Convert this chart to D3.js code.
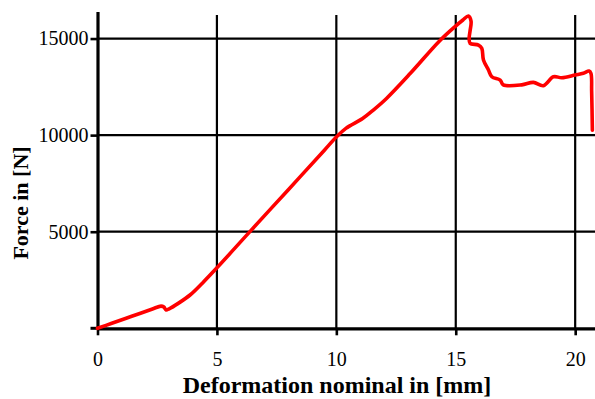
<!DOCTYPE html>
<html>
<head>
<meta charset="utf-8">
<script src="https://cdn.jsdelivr.net/npm/d3@7"></script>
<style>
    body { margin: 0; background: white; }
    svg text { font-family: "Liberation Serif", "Times New Roman", serif; }
</style>
</head>
<body>
<div id="canvas"></div>
<script>
"use strict"

/* Data: deformation [mm] and force [N] */
let deformation = [0, 0.6, 1.2, 1.8, 2.3, 2.66, 2.78, 2.87, 3.0, 3.38, 3.9, 4.4, 5.0, 6.4, 8.0, 9.5, 10.0, 10.4, 11.1, 11.55, 12.1, 13.1, 14.3, 14.97, 15.3, 15.53, 15.64, 15.6, 15.56, 15.6, 15.95, 16.09, 16.16, 16.37, 16.51, 16.86, 16.99, 17.76, 18.25, 18.67, 19.09, 19.44, 20.0, 20.34, 20.58, 20.66, 20.69, 20.72];
let force = [0, 260, 520, 780, 1000, 1150, 1100, 950, 1010, 1290, 1750, 2350, 3130, 5030, 7190, 9220, 9900, 10350, 10860, 11300, 11900, 13200, 14850, 15620, 15960, 16170, 15900, 15400, 15010, 14750, 14660, 14490, 13890, 13370, 13020, 12850, 12600, 12600, 12730, 12560, 13020, 12970, 13110, 13200, 13320, 13200, 12250, 10260];

let xTicks = [0, 5, 10, 15, 20];
let yTicks = [0, 5000, 10000, 15000];

/* Configuration variables: drawing */
let svgWidth = 595;
let svgHeight = 399;
let plotLeft = 97.5;
let plotTop = 11.5;
let plotBottom = 328.3;

let svg = d3.select("#canvas")
    .append("svg")
    .attr("width", svgWidth)
    .attr("height", svgHeight);

let xScale = d3.scaleLinear()
    .domain([0, 20.83])
    .range([plotLeft, svgWidth]);

let yScale = d3.scaleLinear()
    .domain([0, 16400])
    .range([plotBottom, plotTop]);

/* Grid lines */
svg.append("g")
    .selectAll("line")
    .data(yTicks.filter(d => d > 0))
    .join("line")
    .attr("x1", plotLeft)
    .attr("x2", svgWidth)
    .attr("y1", d => yScale(d))
    .attr("y2", d => yScale(d))
    .attr("stroke", "black")
    .attr("stroke-width", 2.2);

svg.append("g")
    .selectAll("line")
    .data(xTicks.filter(d => d > 0))
    .join("line")
    .attr("x1", d => xScale(d))
    .attr("x2", d => xScale(d))
    .attr("y1", 15)
    .attr("y2", plotBottom)
    .attr("stroke", "black")
    .attr("stroke-width", 2.2);

/* Axes */
let xAxis = svg.append("g")
    .attr("transform", "translate(0," + plotBottom + ")")
    .call(d3.axisBottom(xScale).tickValues(xTicks).tickFormat(d3.format("d"))
        .tickSize(7).tickSizeOuter(0).tickPadding(17));

let yAxis = svg.append("g")
    .attr("transform", "translate(" + plotLeft + ",0)")
    .call(d3.axisLeft(yScale).tickValues(yTicks.filter(d => d > 0)).tickFormat(d3.format("d"))
        .tickSize(7).tickSizeOuter(0).tickPadding(2));

/* the zero tick of the y axis: a short line left of the origin */
svg.append("line")
    .attr("x1", plotLeft - 7)
    .attr("x2", plotLeft)
    .attr("y1", yScale(0))
    .attr("y2", yScale(0))
    .attr("stroke", "black")
    .attr("stroke-width", 3);

xAxis.select(".domain").attr("stroke-width", 3.2);
yAxis.select(".domain").attr("stroke-width", 3.2);
svg.selectAll(".tick line").attr("stroke-width", 2.6);
svg.selectAll(".tick text")
    .style("font-family", "'Liberation Serif', serif")
    .style("font-size", "20px")
    .attr("fill", "black");

/* Force curve */
let points = deformation.map((d, i) => [d, force[i]]);

svg.append("path")
    .datum(points)
    .attr("fill", "none")
    .attr("stroke", "#ff0000")
    .attr("stroke-width", 3.6)
    .attr("stroke-linejoin", "round")
    .attr("stroke-linecap", "round")
    .attr("d", d3.line()
        .x(d => xScale(d[0]))
        .y(d => yScale(d[1]))
        .curve(d3.curveCatmullRom.alpha(0.5)));

/* X axis label */
svg.append("text")
    .attr("x", 337)
    .attr("y", 393)
    .attr("text-anchor", "middle")
    .attr("font-size", 24)
    .attr("font-weight", "bold")
    .text("Deformation nominal in [mm]");

/* Y axis label */
svg.append("text")
    .attr("transform", "translate(28,203) rotate(-90)")
    .attr("text-anchor", "middle")
    .attr("font-size", 22)
    .attr("font-weight", "bold")
    .text("Force in [N]");
</script>
</body>
</html>
